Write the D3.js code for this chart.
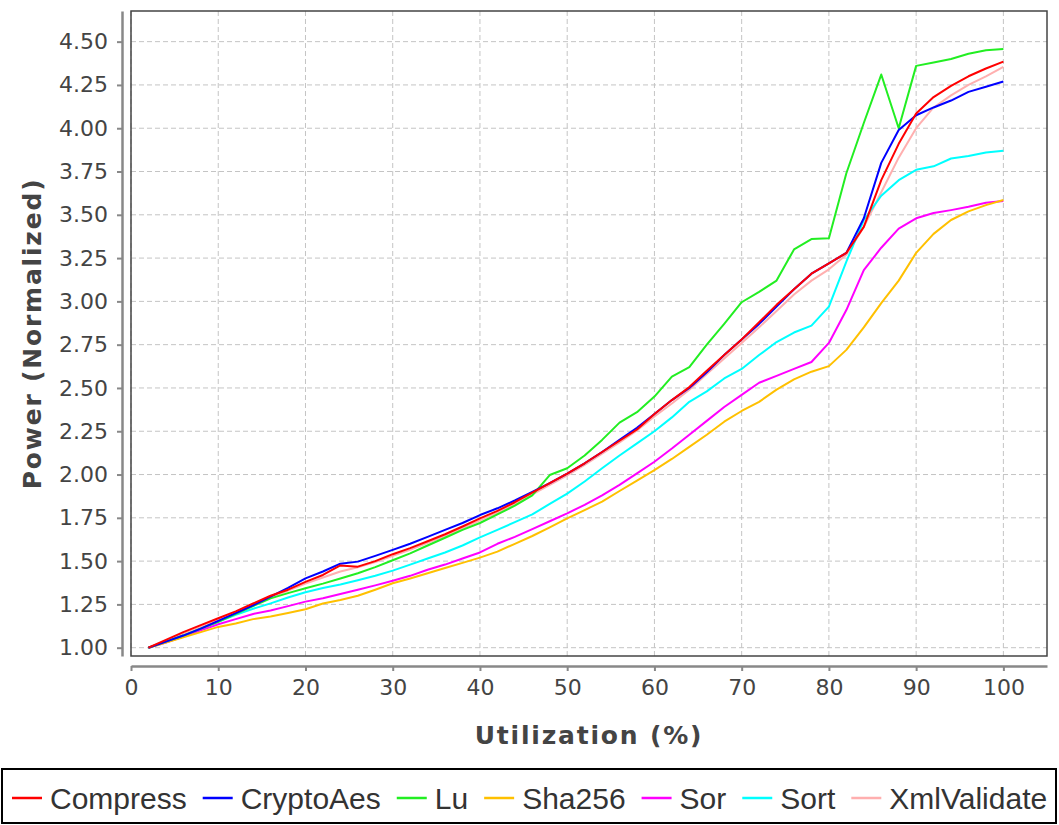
<!DOCTYPE html>
<html>
<head>
<meta charset="utf-8">
<script src="https://cdn.jsdelivr.net/npm/d3@7"></script>
<style>
  body { margin: 0; background: #fff; }
  .tick text { fill: #444; font-family: "DejaVu Sans", sans-serif; font-size: 22px; }
  .title { fill: #444; font-family: "DejaVu Sans", sans-serif; font-size: 25px; font-weight: bold; letter-spacing: 1.8px; }
  .legend text { fill: #333; font-family: "Liberation Sans", Arial, sans-serif; font-size: 30px; }
</style>
</head>
<body>
<div id="chart"></div>
<script>
// utilization steps (x)
let utilization = [2, 4, 6, 8, 10, 12, 14, 16, 18, 20, 22, 24, 26, 28, 30, 32, 34, 36, 38, 40,
    42, 44, 46, 48, 50, 52, 54, 56, 58, 60, 62, 64, 66, 68, 70, 72, 74, 76, 78, 80,
    82, 84, 86, 88, 90, 92, 94, 96, 98, 100];

let compress = [1.00, 1.045, 1.09, 1.13, 1.17, 1.21, 1.255, 1.30, 1.335, 1.38, 1.42, 1.475, 1.468, 1.50, 1.54, 1.575, 1.615, 1.655, 1.70, 1.747,
    1.79, 1.84, 1.895, 1.95, 2.005, 2.065, 2.13, 2.195, 2.26, 2.35, 2.43, 2.505, 2.60, 2.69, 2.78, 2.88, 2.98, 3.07, 3.16, 3.22,
    3.28, 3.43, 3.70, 3.91, 4.085, 4.18, 4.245, 4.30, 4.345, 4.385];

let cryptoAes = [1.00, 1.035, 1.07, 1.11, 1.155, 1.20, 1.245, 1.295, 1.345, 1.40, 1.44, 1.485, 1.497, 1.53, 1.565, 1.60, 1.64, 1.68, 1.72, 1.766,
    1.805, 1.85, 1.90, 1.95, 2.005, 2.065, 2.13, 2.20, 2.27, 2.35, 2.43, 2.50, 2.59, 2.69, 2.78, 2.87, 2.97, 3.07, 3.16, 3.22,
    3.28, 3.48, 3.80, 3.99, 4.075, 4.12, 4.16, 4.21, 4.24, 4.27];

let lu = [1.00, 1.035, 1.07, 1.11, 1.15, 1.195, 1.24, 1.285, 1.315, 1.343, 1.37, 1.40, 1.43, 1.465, 1.505, 1.545, 1.59, 1.635, 1.68, 1.72,
    1.77, 1.82, 1.88, 1.997, 2.036, 2.11, 2.20, 2.30, 2.36, 2.45, 2.565, 2.62, 2.75, 2.87, 2.995, 3.055, 3.12, 3.30, 3.36, 3.365,
    3.74, 4.03, 4.31, 4.00, 4.36, 4.38, 4.40, 4.43, 4.45, 4.457];

let sha256 = [1.00, 1.03, 1.06, 1.09, 1.12, 1.14, 1.165, 1.18, 1.20, 1.222, 1.255, 1.275, 1.30, 1.335, 1.372, 1.40, 1.43, 1.46, 1.49, 1.52,
    1.555, 1.60, 1.645, 1.695, 1.747, 1.795, 1.843, 1.905, 1.965, 2.026, 2.09, 2.16, 2.23, 2.305, 2.367, 2.42, 2.49, 2.55, 2.594, 2.626,
    2.72, 2.85, 2.99, 3.12, 3.28, 3.39, 3.47, 3.52, 3.556, 3.585];

let sor = [1.00, 1.03, 1.065, 1.10, 1.135, 1.165, 1.195, 1.215, 1.24, 1.266, 1.285, 1.31, 1.335, 1.36, 1.387, 1.415, 1.45, 1.48, 1.515, 1.55,
    1.60, 1.64, 1.685, 1.73, 1.776, 1.825, 1.88, 1.94, 2.007, 2.074, 2.15, 2.23, 2.31, 2.39, 2.46, 2.53, 2.57, 2.61, 2.65, 2.76,
    2.95, 3.18, 3.31, 3.42, 3.48, 3.51, 3.527, 3.546, 3.57, 3.58];

let sort = [1.00, 1.035, 1.07, 1.11, 1.15, 1.19, 1.225, 1.256, 1.29, 1.32, 1.345, 1.365, 1.39, 1.415, 1.445, 1.48, 1.515, 1.55, 1.59, 1.637,
    1.68, 1.725, 1.77, 1.83, 1.89, 1.96, 2.036, 2.11, 2.18, 2.25, 2.33, 2.42, 2.48, 2.555, 2.61, 2.69, 2.765, 2.82, 2.86, 2.97,
    3.23, 3.47, 3.61, 3.70, 3.76, 3.78, 3.825, 3.84, 3.86, 3.87];

let xmlValidate = [1.00, 1.04, 1.08, 1.12, 1.16, 1.20, 1.245, 1.29, 1.33, 1.37, 1.405, 1.44, 1.465, 1.495, 1.53, 1.565, 1.605, 1.645, 1.69, 1.735,
    1.78, 1.83, 1.885, 1.94, 1.995, 2.055, 2.12, 2.185, 2.255, 2.335, 2.41, 2.49, 2.58, 2.67, 2.76, 2.85, 2.945, 3.04, 3.12, 3.185,
    3.27, 3.43, 3.63, 3.83, 4.00, 4.12, 4.19, 4.25, 4.30, 4.355];

let names = ["Compress", "CryptoAes", "Lu", "Sha256", "Sor", "Sort", "XmlValidate"];
let values = [compress, cryptoAes, lu, sha256, sor, sort, xmlValidate];
let colors = ["#ff0000", "#0000ff", "#22ee22", "#ffc000", "#ff00ff", "#00ffff", "#ffafaf"];

let xTicks = [0, 10, 20, 30, 40, 50, 60, 70, 80, 90, 100];
let yTicks = [1.00, 1.25, 1.50, 1.75, 2.00, 2.25, 2.50, 2.75, 3.00, 3.25, 3.50, 3.75, 4.00, 4.25, 4.50];

const width = 1059, height = 825;
const plot = {left: 131, right: 1047, top: 11, bottom: 656};

const svg = d3.select("#chart").append("svg")
    .attr("width", width)
    .attr("height", height);

const x = d3.scaleLinear().domain([0, 105]).range([plot.left, plot.right]);
const y = d3.scaleLinear().domain([0.952, 4.677]).range([plot.bottom, plot.top]);

// gridlines
const grid = svg.append("g")
    .attr("stroke", "#c4c4c4")
    .attr("stroke-width", 1)
    .attr("stroke-dasharray", "5,3");

grid.selectAll(".gx").data(xTicks).join("line")
    .attr("x1", d => x(d)).attr("x2", d => x(d))
    .attr("y1", plot.top).attr("y2", plot.bottom);

grid.selectAll(".gy").data(yTicks).join("line")
    .attr("x1", plot.left).attr("x2", plot.right)
    .attr("y1", d => y(d)).attr("y2", d => y(d));

// lines, first series drawn last (on top)
const line = d3.line()
    .x((d, i) => x(utilization[i]))
    .y(d => y(d));

const order = d3.range(names.length).reverse();
svg.append("g").selectAll("path").data(order).join("path")
    .attr("d", i => line(values[i]))
    .attr("fill", "none")
    .attr("stroke", i => colors[i])
    .attr("stroke-width", 2)
    .attr("stroke-linejoin", "round");

// plot outline
svg.append("rect")
    .attr("x", plot.left).attr("y", plot.top)
    .attr("width", plot.right - plot.left)
    .attr("height", plot.bottom - plot.top)
    .attr("fill", "none")
    .attr("stroke", "#444")
    .attr("stroke-width", 1.5);

// axes
const yAxis = svg.append("g")
    .attr("transform", "translate(122,0)")
    .call(d3.axisLeft(y).tickValues(yTicks).tickFormat(d3.format(".2f"))
        .tickSize(5).tickSizeOuter(0).tickPadding(9));

const xAxis = svg.append("g")
    .attr("transform", "translate(0,666)")
    .call(d3.axisBottom(x).tickValues(xTicks).tickSize(5).tickSizeOuter(0).tickPadding(8));

[xAxis, yAxis].forEach(a => {
    a.select(".domain").attr("stroke", "#888").attr("stroke-width", 2.5);
    a.selectAll(".tick line").attr("stroke", "#888").attr("stroke-width", 2);
});

// axis titles
svg.append("text")
    .attr("class", "title")
    .attr("x", (plot.left + plot.right) / 2)
    .attr("y", 744)
    .attr("text-anchor", "middle")
    .text("Utilization (%)");

svg.append("text")
    .attr("class", "title")
    .attr("transform", "translate(41," + ((plot.top + plot.bottom) / 2) + ") rotate(-90)")
    .attr("text-anchor", "middle")
    .text("Power (Normalized)");

// legend
const legend = svg.append("g").attr("class", "legend");
legend.append("rect")
    .attr("x", 2).attr("y", 769)
    .attr("width", 1054).attr("height", 54)
    .attr("fill", "#fff")
    .attr("stroke", "#000")
    .attr("stroke-width", 2);

let lx = 12;
names.forEach((n, i) => {
    legend.append("line")
        .attr("x1", lx).attr("x2", lx + 30)
        .attr("y1", 798).attr("y2", 798)
        .attr("stroke", colors[i])
        .attr("stroke-width", 2.5);
    const t = legend.append("text")
        .attr("x", lx + 38)
        .attr("y", 809)
        .text(n);
    lx += 38 + t.node().getComputedTextLength() + 16;
});
</script>
</body>
</html>
